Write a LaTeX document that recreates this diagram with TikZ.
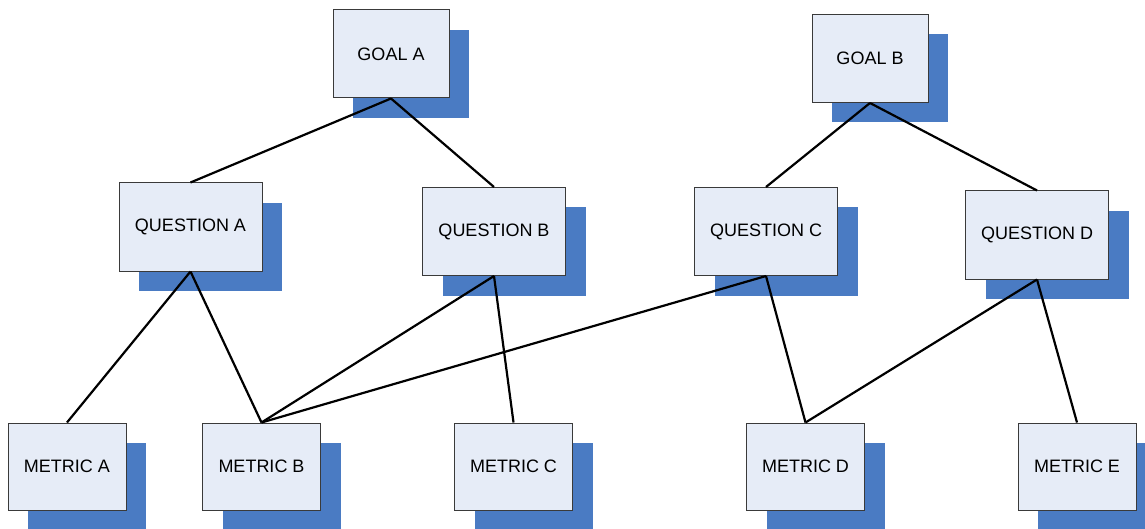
\documentclass[tikz,border=0pt]{standalone}
\usepackage{fontspec}
\setmainfont{Liberation Sans}
\usetikzlibrary{shadows}
\definecolor{boxfill}{HTML}{E6ECF7}
\definecolor{shadowblue}{HTML}{4A7BC3}
\definecolor{boxline}{HTML}{3A3A3A}
\tikzset{
  box/.style={draw=boxline, line width=1pt, fill=boxfill, inner sep=0pt,
    font=\fontsize{18}{21}\selectfont,
    drop shadow={shadow xshift=20pt, shadow yshift=-20pt, fill=shadowblue, opacity=1}},
  goalbox/.style={box, minimum width=116pt, minimum height=88pt},
  qbox/.style={box, minimum width=143pt, minimum height=88pt},
  mbox/.style={box, minimum width=118pt, minimum height=87pt},
  link/.style={draw=black, line width=2.2pt}
}
\begin{document}
\begin{tikzpicture}[x=1pt,y=-1pt]
\useasboundingbox (0,0) rectangle (1145,529);
\clip (0,0) rectangle (1145,529);
\fill[white] (0,0) rectangle (1145,529);
\node[goalbox] (ga) at (391,54) {GOAL A};
\node[goalbox] (gb) at (870,58.5) {GOAL B};
\node[qbox] (qa) at (190.5,227) {QUESTION A};
\node[qbox] (qb) at (494,231.5) {QUESTION B};
\node[qbox] (qc) at (766,231.5) {QUESTION C};
\node[qbox] (qd) at (1037,235) {QUESTION D};
\node[mbox] (ma) at (67,466.5) {METRIC A};
\node[mbox] (mb) at (261.5,466.5) {METRIC B};
\node[mbox] (mc) at (513.5,466.5) {METRIC C};
\node[mbox] (md) at (805.5,466.5) {METRIC D};
\node[mbox] (me) at (1077,466.5) {METRIC E};
\draw[link] (ga.south) -- (qa.north);
\draw[link] (ga.south) -- (qb.north);
\draw[link] (gb.south) -- (qc.north);
\draw[link] (gb.south) -- (qd.north);
\draw[link] (qa.south) -- (ma.north);
\draw[link] (qa.south) -- (mb.north);
\draw[link] (qb.south) -- (mb.north);
\draw[link] (qb.south) -- (mc.north);
\draw[link] (qc.south) -- (mb.north);
\draw[link] (qc.south) -- (md.north);
\draw[link] (qd.south) -- (md.north);
\draw[link] (qd.south) -- (me.north);
\end{tikzpicture}
\end{document}
